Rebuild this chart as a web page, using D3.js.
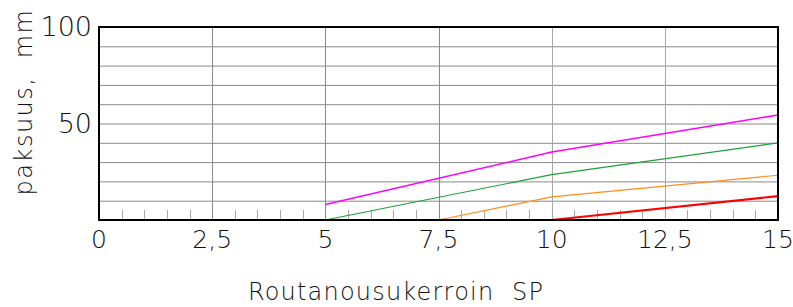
<!DOCTYPE html>
<html>
<head>
<meta charset="utf-8">
<script src="https://cdn.jsdelivr.net/npm/d3@7"></script>
<style>
  html, body { margin: 0; padding: 0; background: #fff; }
  text { font-family: "DejaVu Sans", sans-serif; font-weight: 200; fill: #111; white-space: pre; }
</style>
</head>
<body>
<svg id="chart" width="793" height="307"></svg>
<script>
/* ── Data ──────────────────────────────────────────────── */
const xTicks = [0, 2.5, 5, 7.5, 10, 12.5, 15];
const xTickLabels = ["0", "2,5", "5", "7,5", "10", "12,5", "15"];
const yTicks = [50, 100];
const yGrid = [10, 20, 30, 40, 50, 60, 70, 80, 90];

const magentaX = [5, 10, 15], magentaY = [8, 35.2, 54.4];
const greenX   = [5, 10, 15], greenY   = [0, 23.5, 40];
const orangeX  = [7.5, 10, 15], orangeY = [0, 12, 23.2];
const redX     = [10, 15], redY = [0, 12.4];

/* ── Layout ────────────────────────────────────────────── */
const svg = d3.select("#chart");
const L = 99, R = 778, T = 27, B = 220;
const x = d3.scaleLinear().domain([0, 15]).range([L, R]);
const y = d3.scaleLinear().domain([0, 100]).range([B, T]);

// grid
svg.append("g").selectAll("line").data(yGrid).join("line")
  .attr("x1", L).attr("x2", R)
  .attr("y1", d => y(d) + 0.5).attr("y2", d => y(d) + 0.5)
  .attr("stroke", "#8a8a8a").attr("stroke-width", 1);
svg.append("g").selectAll("line").data(xTicks.slice(1, -1)).join("line")
  .attr("x1", d => Math.round(x(d)) + 0.5).attr("x2", d => Math.round(x(d)) + 0.5)
  .attr("y1", T).attr("y2", B)
  .attr("stroke", d => d >= 10 ? "#a8a8a8" : "#8a8a8a").attr("stroke-width", 1);

// minor ticks along bottom
const minor = d3.range(0.5, 15, 0.5).filter(v => v % 2.5 !== 0);
svg.append("g").selectAll("line").data(minor).join("line")
  .attr("x1", d => Math.round(x(d)) + 0.5).attr("x2", d => Math.round(x(d)) + 0.5)
  .attr("y1", B - 10).attr("y2", B)
  .attr("stroke", "#a8a8a8").attr("stroke-width", 1);

// series
const line = d3.line().x(d => x(d[0])).y(d => y(d[1]));
const series = [
  { xs: magentaX, ys: magentaY, c: "#ff00ff", w: 1.5 },
  { xs: greenX,   ys: greenY,   c: "#1aa337", w: 1.2 },
  { xs: orangeX,  ys: orangeY,  c: "#ff8c1a", w: 1.2 },
  { xs: redX,     ys: redY,     c: "#ff0000", w: 2.2 }
];
series.forEach(s => {
  svg.append("path")
    .attr("d", line(s.xs.map((v, i) => [v, s.ys[i]])))
    .attr("fill", "none").attr("stroke", s.c).attr("stroke-width", s.w);
});

// frame
svg.append("rect")
  .attr("x", L).attr("y", T).attr("width", R - L).attr("height", B - T)
  .attr("fill", "none").attr("stroke", "#000").attr("stroke-width", 2);

// y tick labels
svg.append("g").selectAll("text").data(yTicks).join("text")
  .attr("x", L - 7).attr("y", d => y(d) + 9)
  .attr("text-anchor", "end").attr("font-size", 27)
  .text(d => d);

// x tick labels
svg.append("g").selectAll("text").data(xTicks).join("text")
  .attr("x", d => x(d)).attr("y", 248)
  .attr("text-anchor", "middle").attr("font-size", 25)
  .text((d, i) => xTickLabels[i]);

// axis titles
svg.append("text")
  .attr("x", 396).attr("y", 300)
  .attr("text-anchor", "middle").attr("font-size", 24)
  .attr("letter-spacing", 1.2)
  .text("Routanousukerroin  SP");

svg.append("text")
  .attr("transform", "translate(32,102) rotate(-90)")
  .attr("text-anchor", "middle").attr("font-size", 24)
  .attr("letter-spacing", 1.5)
  .text("paksuus,  mm");
</script>
</body>
</html>
